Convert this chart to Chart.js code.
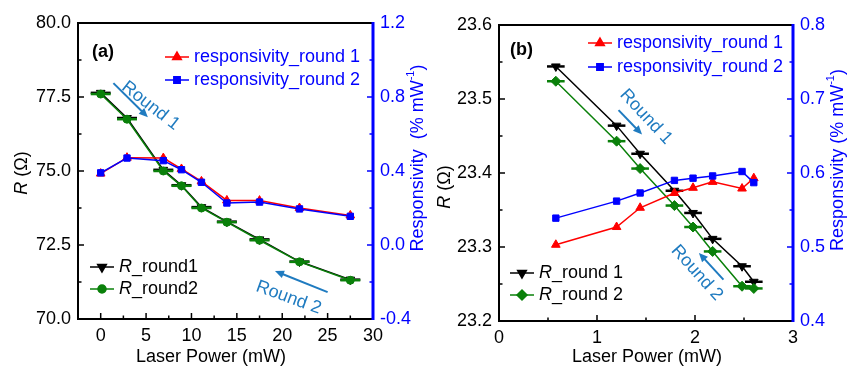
<!DOCTYPE html>
<html>
<head>
<meta charset="utf-8">
<script src="https://cdn.jsdelivr.net/npm/chart.js@4.4.1/dist/chart.umd.min.js"></script>
<style>
  html, body { margin: 0; padding: 0; background: #fff; }
  #wrap { position: relative; width: 850px; height: 366px; }
  canvas { position: absolute; top: 0; }
  #chartA { left: 0; }
  #chartB { left: 430px; }
</style>
</head>
<body>
<div id="wrap">
  <canvas id="chartA" width="430" height="366"></canvas>
  <canvas id="chartB" width="420" height="366"></canvas>
</div>
<script>
// ---- panel (a) data ----
const powerA = [0, 2.9, 6.9, 8.9, 11.1, 13.9, 17.5, 21.9, 27.5];
const rRound1A = [77.64, 76.79, 75.04, 74.52, 73.78, 73.29, 72.69, 71.94, 71.33];
const rRound2A = [77.60, 76.75, 75.00, 74.50, 73.75, 73.27, 72.66, 71.93, 71.31];
const respRound1A = [0.386, 0.472, 0.470, 0.411, 0.344, 0.241, 0.240, 0.200, 0.160];
const respRound2A = [0.390, 0.470, 0.456, 0.407, 0.339, 0.227, 0.232, 0.195, 0.155];
const powerErrA = 1.1;

// ---- panel (b) data ----
const powerB = [0.58, 1.2, 1.44, 1.79, 1.98, 2.18, 2.48, 2.6];
const rRound1B = [23.544, 23.464, 23.426, 23.376, 23.346, 23.311, 23.274, 23.253];
const rRound2B = [23.524, 23.443, 23.406, 23.356, 23.327, 23.294, 23.247, 23.244];
const respRound1B = [0.503, 0.527, 0.553, 0.573, 0.580, 0.588, 0.579, 0.593];
const respRound2B = [0.539, 0.562, 0.573, 0.590, 0.593, 0.596, 0.602, 0.587];
const powerErrB = 0.09;

// ---- tick labels ----
const xTicksA = [0, 5, 10, 15, 20, 25, 30];
const rTicksA = [70, 72.5, 75, 77.5, 80];
const respTicksA = [-0.4, 0, 0.4, 0.8, 1.2];
const xTicksB = [0, 1, 2, 3];
const rTicksB = [23.2, 23.3, 23.4, 23.5, 23.6];
const respTicksB = [0.4, 0.5, 0.6, 0.7, 0.8];

const FONT = '"Liberation Sans", Arial, sans-serif';
const BLUE = '#0000ff';
const NOTE = '#1f7bc0';
Chart.defaults.font.family = FONT;
Chart.defaults.font.size = 18;
Chart.defaults.color = '#000';

function pts(xs, ys) {
  return xs.map((x, i) => ({ x: x, y: ys[i] }));
}

// horizontal error bars on the R series
const errorBars = {
  id: 'errorBars',
  afterDatasetDraw(chart, args) {
    const ds = chart.data.datasets[args.index];
    if (!ds.xErr) return;
    const { ctx, scales } = chart;
    const ys = scales[ds.yAxisID];
    ctx.save();
    ctx.strokeStyle = ds.borderColor;
    ctx.lineWidth = 2.5;
    ds.data.forEach(p => {
      const x0 = scales.x.getPixelForValue(p.x - ds.xErr);
      const x1 = scales.x.getPixelForValue(p.x + ds.xErr);
      const y = ys.getPixelForValue(p.y);
      ctx.beginPath();
      ctx.moveTo(x0, y); ctx.lineTo(x1, y);
      ctx.stroke();
    });
    ctx.restore();
  }
};

function majorMinor(scale) {
  const majors = scale.ticks.map(t => t.value);
  const minors = [];
  for (let i = 0; i < majors.length - 1; i++) minors.push((majors[i] + majors[i + 1]) / 2);
  return { majors, minors };
}

// frame, inward ticks, titles, legends and notes
const decor = {
  id: 'decor',
  afterDraw(chart, args, o) {
    const { ctx, chartArea: a, scales } = chart;
    ctx.save();

    // inward ticks
    const tick = (scale, color, fn) => {
      const mm = majorMinor(scale);
      ctx.strokeStyle = color;
      ctx.lineWidth = 1.5;
      mm.majors.forEach(v => fn(scale.getPixelForValue(v), 6));
      mm.minors.forEach(v => fn(scale.getPixelForValue(v), 3.5));
    };
    tick(scales.x, '#000', (px, len) => {
      ctx.beginPath(); ctx.moveTo(px, a.bottom); ctx.lineTo(px, a.bottom - len); ctx.stroke();
    });
    tick(scales.y, '#000', (py, len) => {
      ctx.beginPath(); ctx.moveTo(a.left, py); ctx.lineTo(a.left + len, py); ctx.stroke();
    });
    tick(scales.y1, BLUE, (py, len) => {
      ctx.beginPath(); ctx.moveTo(a.right, py); ctx.lineTo(a.right - len, py); ctx.stroke();
    });

    // frame
    ctx.lineWidth = 2;
    ctx.strokeStyle = '#000';
    ctx.beginPath();
    ctx.moveTo(a.right, a.top); ctx.lineTo(a.left, a.top);
    ctx.lineTo(a.left, a.bottom); ctx.lineTo(a.right, a.bottom);
    ctx.stroke();
    ctx.strokeStyle = BLUE;
    ctx.lineWidth = 3;
    ctx.beginPath();
    ctx.moveTo(a.right, a.top - 1); ctx.lineTo(a.right, a.bottom + 1);
    ctx.stroke();

    // panel label
    ctx.fillStyle = '#000';
    ctx.font = 'bold 18px ' + FONT;
    ctx.textBaseline = 'middle';
    ctx.textAlign = 'left';
    ctx.fillText(o.panel, o.panelPos[0], o.panelPos[1]);

    // x title
    ctx.font = '18px ' + FONT;
    ctx.textAlign = 'center';
    ctx.fillText('Laser Power (mW)', o.xTitle[0], o.xTitle[1]);

    // left title: R (Ω)
    ctx.save();
    ctx.translate(o.leftTitle[0], o.leftTitle[1]);
    ctx.rotate(-Math.PI / 2);
    ctx.textAlign = 'left';
    ctx.font = 'italic 18px ' + FONT;
    const wR = ctx.measureText('R').width;
    ctx.font = '18px ' + FONT;
    const wRest = ctx.measureText(' (\u03A9)').width;
    let sx = -(wR + wRest) / 2;
    ctx.font = 'italic 18px ' + FONT;
    ctx.fillText('R', sx, 0);
    ctx.font = '18px ' + FONT;
    ctx.fillText(' (\u03A9)', sx + wR, 0);
    ctx.restore();

    // right title: Responsivity (% mW-1)
    ctx.save();
    ctx.translate(o.rightTitle[0], o.rightTitle[1]);
    ctx.rotate(-Math.PI / 2);
    ctx.fillStyle = BLUE;
    ctx.textAlign = 'left';
    const p1 = o.rightText, p2 = '-1', p3 = ')';
    ctx.font = '18px ' + FONT;
    const w1 = ctx.measureText(p1).width, w3 = ctx.measureText(p3).width;
    ctx.font = '11px ' + FONT;
    const w2 = ctx.measureText(p2).width;
    sx = -(w1 + w2 + w3) / 2;
    ctx.font = '18px ' + FONT;
    ctx.fillText(p1, sx, 0);
    ctx.font = '11px ' + FONT;
    ctx.fillText(p2, sx + w1, -7);
    ctx.font = '18px ' + FONT;
    ctx.fillText(p3, sx + w1 + w2, 0);
    ctx.restore();

    // legends
    o.legends.forEach(lg => {
      lg.items.forEach((idx, i) => {
        const ds = chart.data.datasets[idx];
        const y = lg.y + i * lg.gap;
        ctx.strokeStyle = ds.borderColor;
        ctx.fillStyle = ds.backgroundColor;
        ctx.lineWidth = 1.5;
        ctx.beginPath(); ctx.moveTo(lg.x, y); ctx.lineTo(lg.x + 24, y); ctx.stroke();
        Chart.helpers.drawPoint(ctx, {
          pointStyle: ds.pointStyle, radius: ds.pointRadius,
          rotation: ds.pointRotation || 0, borderWidth: 1
        }, lg.x + 12, y);
        ctx.fillStyle = lg.color;
        ctx.textAlign = 'left';
        ctx.textBaseline = 'middle';
        let tx = lg.x + 29;
        let label = ds.label;
        if (label.startsWith('R_')) {
          ctx.font = 'italic 18px ' + FONT;
          ctx.fillText('R', tx, y);
          tx += ctx.measureText('R').width;
          label = label.slice(1);
        }
        ctx.font = '18px ' + FONT;
        ctx.fillText(label, tx, y);
      });
    });

    // Round arrows and notes (in data units of x / left y)
    o.notes.forEach(n => {
      const x0 = scales.x.getPixelForValue(n.from[0]), y0 = scales.y.getPixelForValue(n.from[1]);
      const x1 = scales.x.getPixelForValue(n.to[0]), y1 = scales.y.getPixelForValue(n.to[1]);
      const ang = Math.atan2(y1 - y0, x1 - x0);
      ctx.strokeStyle = NOTE;
      ctx.fillStyle = NOTE;
      ctx.lineWidth = 2;
      ctx.beginPath();
      ctx.moveTo(x0, y0);
      ctx.lineTo(x1 - 6 * Math.cos(ang), y1 - 6 * Math.sin(ang));
      ctx.stroke();
      ctx.beginPath();
      ctx.moveTo(x1, y1);
      ctx.lineTo(x1 - 9 * Math.cos(ang) + 4 * Math.sin(ang), y1 - 9 * Math.sin(ang) - 4 * Math.cos(ang));
      ctx.lineTo(x1 - 9 * Math.cos(ang) - 4 * Math.sin(ang), y1 - 9 * Math.sin(ang) + 4 * Math.cos(ang));
      ctx.closePath();
      ctx.fill();
      const tx = scales.x.getPixelForValue(n.at[0]), ty = scales.y.getPixelForValue(n.at[1]);
      ctx.save();
      ctx.translate(tx, ty);
      ctx.rotate(n.rot * Math.PI / 180);
      ctx.font = '18px ' + FONT;
      ctx.textAlign = 'center';
      ctx.textBaseline = 'middle';
      ctx.fillText(n.text, 0, 0);
      ctx.restore();
    });

    ctx.restore();
  }
};

function makePanel(id, p) {
  const ctx = document.getElementById(id).getContext('2d');
  return new Chart(ctx, {
    type: 'line',
    data: {
      datasets: [
        {
          label: 'responsivity_round 1', data: pts(p.power, p.resp1), yAxisID: 'y1', order: 2,
          borderColor: '#ff0000', backgroundColor: '#ff0000', borderWidth: 1.5,
          pointStyle: 'triangle', pointRadius: 5, pointBorderWidth: 1
        },
        {
          label: 'responsivity_round 2', data: pts(p.power, p.resp2), yAxisID: 'y1', order: 1,
          borderColor: BLUE, backgroundColor: BLUE, borderWidth: 1.5,
          pointStyle: 'rect', pointRadius: 4.5, pointBorderWidth: 1
        },
        {
          label: p.rLabels[0], data: pts(p.power, p.r1), yAxisID: 'y', order: 4,
          borderColor: '#000', backgroundColor: '#000', borderWidth: 1.5,
          pointStyle: 'triangle', pointRotation: 180, pointRadius: 5, pointBorderWidth: 1,
          xErr: p.err
        },
        {
          label: p.rLabels[1], data: pts(p.power, p.r2), yAxisID: 'y', order: 3,
          borderColor: '#0a800a', backgroundColor: '#0a800a', borderWidth: 1.5,
          pointStyle: p.greenStyle, pointRadius: p.greenStyle === 'circle' ? 4 : 5, pointBorderWidth: 1,
          xErr: p.err
        }
      ]
    },
    options: {
      responsive: false,
      animation: false,
      events: [],
      layout: { padding: { top: p.top, left: 0, right: 0, bottom: 0 } },
      scales: {
        x: {
          type: 'linear', min: p.xRange[0], max: p.xRange[1],
          afterBuildTicks: s => { s.ticks = p.xTicks.map(v => ({ value: v })); },
          afterFit: s => { s.height = p.bottom; },
          grid: { display: false, drawTicks: false },
          border: { display: false },
          ticks: { padding: 6, color: '#000', maxRotation: 0, callback: v => String(v) }
        },
        y: {
          type: 'linear', position: 'left', min: p.rTicks[0], max: p.rTicks[p.rTicks.length - 1],
          afterBuildTicks: s => { s.ticks = p.rTicks.map(v => ({ value: v })); },
          afterFit: s => { s.width = p.left; },
          grid: { display: false, drawTicks: false },
          border: { display: false },
          ticks: { padding: 7, color: '#000', callback: v => v.toFixed(1) }
        },
        y1: {
          type: 'linear', position: 'right', min: p.respTicks[0], max: p.respTicks[p.respTicks.length - 1],
          afterBuildTicks: s => { s.ticks = p.respTicks.map(v => ({ value: v })); },
          afterFit: s => { s.width = p.right; },
          grid: { display: false, drawTicks: false },
          border: { display: false },
          ticks: { padding: 7, color: BLUE, callback: v => v.toFixed(1) }
        }
      },
      plugins: {
        legend: { display: false },
        tooltip: { enabled: false },
        decor: p.decor
      }
    },
    plugins: [errorBars, decor]
  });
}

makePanel('chartA', {
  power: powerA, r1: rRound1A, r2: rRound2A, resp1: respRound1A, resp2: respRound2A, err: powerErrA,
  rLabels: ['R_round1', 'R_round2'], greenStyle: 'circle',
  xRange: [-2.5, 30], xTicks: xTicksA, rTicks: rTicksA, respTicks: respTicksA,
  top: 23, bottom: 47, left: 78, right: 57,
  decor: {
    panel: '(a)', panelPos: [92, 52], xTitle: [211, 357], leftTitle: [22, 173],
    rightTitle: [418, 158], rightText: 'Responsivity  (% mW',
    legends: [
      { items: [0, 1], x: 165, y: 57, gap: 23, color: BLUE },
      { items: [2, 3], x: 90, y: 267, gap: 22, color: '#000' }
    ],
    notes: [
      { text: 'Round 1', from: [1.4, 77.97], to: [5.2, 76.82], at: [5.5, 77.2], rot: 38 },
      { text: 'Round 2', from: [25.0, 70.91], to: [19.2, 71.62], at: [20.7, 70.72], rot: 20 }
    ]
  }
});

makePanel('chartB', {
  power: powerB, r1: rRound1B, r2: rRound2B, resp1: respRound1B, resp2: respRound2B, err: powerErrB,
  rLabels: ['R_round 1', 'R_round 2'], greenStyle: 'rectRot',
  xRange: [0, 3], xTicks: xTicksB, rTicks: rTicksB, respTicks: respTicksB,
  top: 25, bottom: 45, left: 69, right: 57,
  decor: {
    panel: '(b)', panelPos: [80, 50], xTitle: [217, 357], leftTitle: [15, 187],
    rightTitle: [408, 160], rightText: 'Responsivity (% mW',
    legends: [
      { items: [0, 1], x: 158, y: 43, gap: 24, color: BLUE },
      { items: [2, 3], x: 80, y: 273, gap: 22, color: '#000' }
    ],
    notes: [
      { text: 'Round 1', from: [1.22, 23.485], to: [1.46, 23.452], at: [1.5, 23.476], rot: 47 },
      { text: 'Round 2', from: [2.29, 23.256], to: [2.04, 23.292], at: [2.02, 23.265], rot: 48 }
    ]
  }
});
</script>
</body>
</html>
